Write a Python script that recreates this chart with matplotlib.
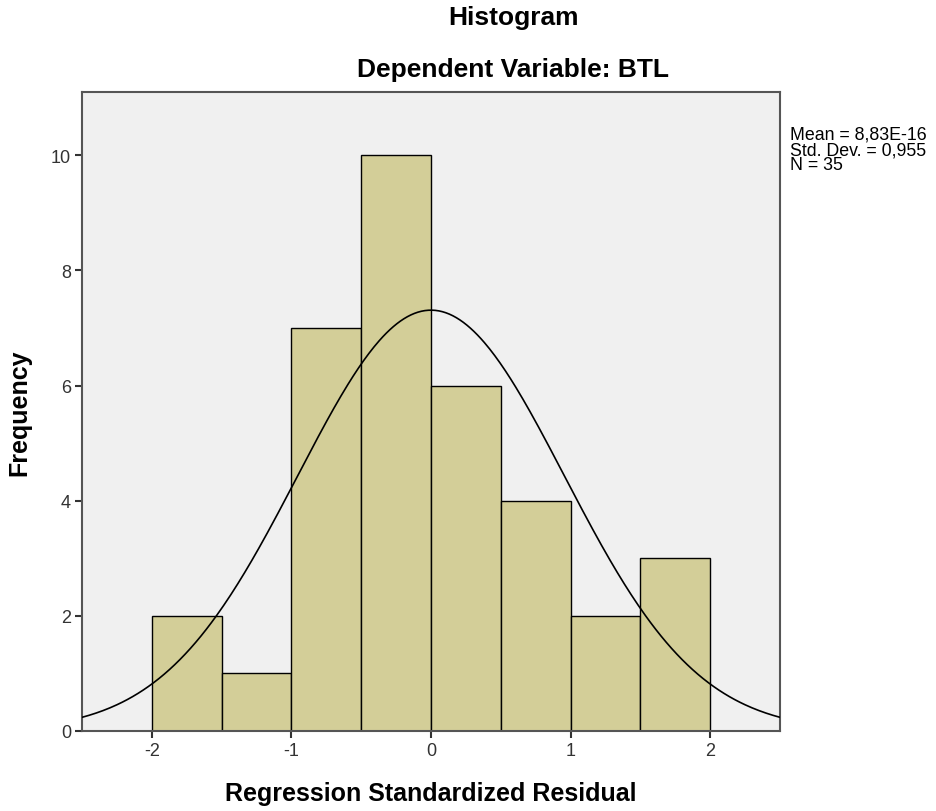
import numpy as np
from matplotlib import pyplot as plt

plt.rcParams['font.family'] = ['Liberation Sans', 'DejaVu Sans']

bin_edges = [-2.0, -1.5, -1.0, -0.5, 0.0, 0.5, 1.0, 1.5, 2.0]
counts = [2, 1, 7, 10, 6, 4, 2, 3]
mean = 8.83e-16
sd = 0.955
n = 35

fig = plt.figure(figsize=(9.36, 8.12), dpi=100)
ax = fig.add_axes([82/936, 80/812, 698/936, 639/812])
ax.set_facecolor('#f0f0f0')

widths = np.diff(bin_edges)
ax.bar(bin_edges[:-1], counts, width=widths, align='edge',
       color='#d3ce98', edgecolor='black', linewidth=1.0, zorder=2)

# courbe normale
x = np.linspace(-2.5, 2.5, 400)
y = n * 0.5 / (sd * np.sqrt(2*np.pi)) * np.exp(-0.5*((x-mean)/sd)**2)
ax.plot(x, y, color='black', linewidth=1.2, zorder=3)

ax.set_xlim(-2.5, 2.5)
ax.set_ylim(0, 11.1)
ax.set_xticks([-2, -1, 0, 1, 2])
ax.set_xticklabels(['-2', '-1', '0', '1', '2'])
ax.set_yticks([0, 2, 4, 6, 8, 10])
ax.tick_params(labelsize=13, colors='#333333', length=5, width=1.5, pad=3)
for s in ax.spines.values():
    s.set_color('#555555')
    s.set_linewidth(1.5)

ax.set_xlabel('Regression Standardized Residual', fontsize=18, fontweight='bold', labelpad=16)
ax.set_ylabel('Frequency', fontsize=18, fontweight='bold', labelpad=14)

fig.text(513/936, 1 - 18/812, 'Histogram', ha='center', va='center', fontsize=19, fontweight='bold')
fig.text(513/936, 1 - 70/812, 'Dependent Variable: BTL', ha='center', va='center', fontsize=19, fontweight='bold')

fig.text(790/936, 1 - 127/812, 'Mean = 8,83E-16\nStd. Dev. = 0,955\nN = 35',
         ha='left', va='top', fontsize=12.8, linespacing=0.85)

plt.savefig('out.png', dpi=100)
